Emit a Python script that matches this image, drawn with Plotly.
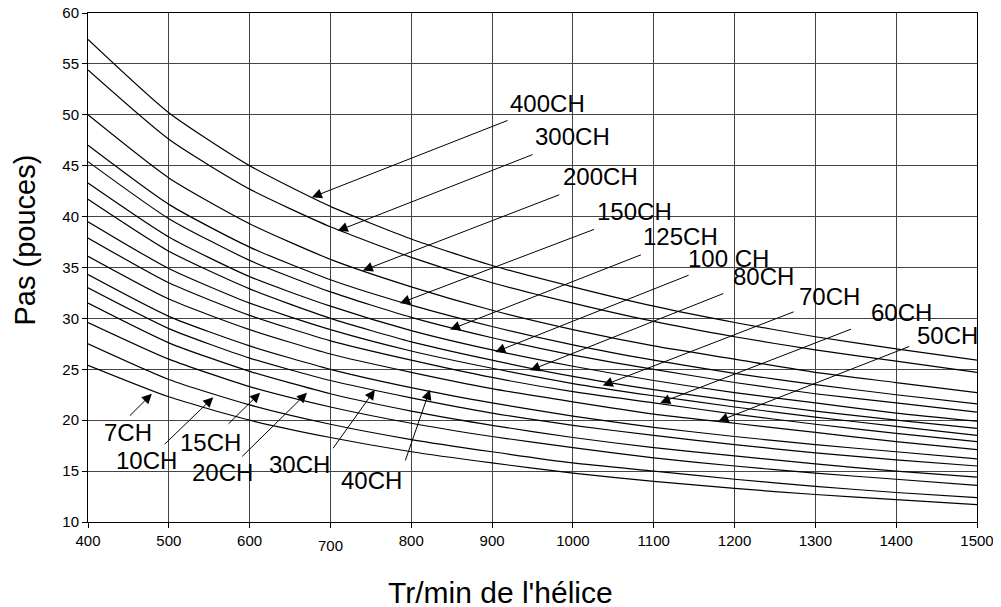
import plotly.graph_objects as go

# x values (Tr/min de l'hélice)
rpm = [400, 500, 600, 700, 800, 900, 1000, 1100, 1200, 1300, 1400, 1500]

# Pitch curves (pouces), one per power rating
ch_400 = [57.4, 50.2, 45.0, 41.0, 37.8, 35.2, 33.1, 31.2, 29.6, 28.2, 27.0, 25.9]
ch_300 = [54.4, 47.6, 42.7, 39.0, 36.0, 33.5, 31.5, 29.7, 28.2, 26.9, 25.8, 24.7]
ch_200 = [50.0, 43.8, 39.3, 35.8, 33.1, 30.8, 28.9, 27.3, 26.0, 24.7, 23.7, 22.7]
ch_150 = [47.0, 41.2, 37.0, 33.8, 31.3, 29.2, 27.4, 25.9, 24.6, 23.5, 22.5, 21.6]
ch_125 = [45.4, 39.8, 35.7, 32.6, 30.1, 28.1, 26.4, 25.0, 23.7, 22.6, 21.7, 20.8]
ch_100 = [43.3, 38.0, 34.1, 31.2, 28.8, 26.9, 25.3, 23.9, 22.7, 21.7, 20.7, 19.9]
ch_80 = [41.7, 36.6, 32.9, 30.0, 27.7, 25.9, 24.3, 23.0, 21.9, 20.9, 20.0, 19.2]
ch_70 = [39.5, 34.9, 31.5, 28.9, 26.8, 25.1, 23.6, 22.4, 21.3, 20.3, 19.4, 18.5]
ch_60 = [37.9, 33.5, 30.3, 27.8, 25.9, 24.2, 22.8, 21.7, 20.6, 19.6, 18.7, 17.9]
ch_50 = [36.1, 31.9, 28.9, 26.5, 24.7, 23.1, 21.8, 20.6, 19.7, 18.8, 17.9, 17.1]
ch_40 = [34.3, 30.2, 27.3, 25.0, 23.2, 21.7, 20.4, 19.3, 18.4, 17.6, 16.9, 16.2]
ch_30 = [33.0, 29.0, 26.1, 23.9, 22.2, 20.7, 19.5, 18.5, 17.6, 16.8, 16.1, 15.5]
ch_20 = [31.5, 27.6, 24.8, 22.6, 20.9, 19.5, 18.3, 17.3, 16.5, 15.7, 15.0, 14.4]
ch_15 = [29.6, 26.0, 23.3, 21.3, 19.7, 18.4, 17.3, 16.3, 15.5, 14.8, 14.2, 13.6]
ch_10 = [27.5, 24.0, 21.5, 19.6, 18.1, 16.9, 15.8, 15.0, 14.2, 13.5, 12.9, 12.4]
ch_7 = [25.4, 22.3, 20.0, 18.3, 16.9, 15.8, 14.8, 14.0, 13.3, 12.7, 12.2, 11.7]

series = [ch_400, ch_300, ch_200, ch_150, ch_125, ch_100, ch_80, ch_70,
          ch_60, ch_50, ch_40, ch_30, ch_20, ch_15, ch_10, ch_7]
names = ["400CH", "300CH", "200CH", "150CH", "125CH", "100 CH", "80CH", "70CH",
         "60CH", "50CH", "40CH", "30CH", "20CH", "15CH", "10CH", "7CH"]

# label text position, arrow tail, arrow tip (data coordinates)
label_text_pos = [(968, 51.1), (999, 47.9), (1034, 43.9), (1076, 40.55), (1133, 38.0),
                  (1193, 35.9), (1236, 34.1), (1318, 32.2), (1407, 30.6), (1463, 28.3),
                  (751, 14.1), (662, 15.6), (566, 14.9), (551, 17.8), (472, 16.0), (449, 18.8)]
arrow_tail = [(921, 49.5), (952, 46.15), (985, 42.2), (1028, 38.8), (1086, 36.3),
              (1145, 34.3), (1188, 32.5), (1275, 30.7), (1346, 29.0), (1418, 27.3),
              (792, 15.9), (702, 17.1), (589, 16.3), (572, 19.5), (493, 17.5), (450, 20.3)]
arrow_tip = [(677, 41.9), (709, 38.6), (740, 34.7), (786, 31.5), (848, 28.9),
             (904, 26.7), (947, 24.9), (1037, 23.4), (1108, 21.7), (1180, 19.9),
             (823, 23.0), (755, 23.0), (671, 22.7), (613, 22.7), (555, 22.25), (479, 22.6)]

x_ticks = [400, 500, 600, 700, 800, 900, 1000, 1100, 1200, 1300, 1400, 1500]
y_ticks = [10, 15, 20, 25, 30, 35, 40, 45, 50, 55, 60]

FONT = "Liberation Sans, Arial, Helvetica, sans-serif"

fig = go.Figure()
for name, ys in zip(names, series):
    fig.add_trace(go.Scatter(x=rpm, y=ys, mode="lines", name=name,
                             line=dict(color="black", width=1.2, shape="spline", smoothing=0.6),
                             showlegend=False, hoverinfo="skip"))

annotations = []
for name, tp, tl, tip in zip(names, label_text_pos, arrow_tail, arrow_tip):
    annotations.append(dict(x=tip[0], y=tip[1], ax=tl[0], ay=tl[1], xref="x", yref="y",
                            axref="x", ayref="y", text="", showarrow=True,
                            arrowhead=2, arrowsize=2, arrowwidth=1, arrowcolor="black"))
    annotations.append(dict(x=tp[0], y=tp[1], xref="x", yref="y", text=name, showarrow=False,
                            font=dict(family=FONT, size=24, color="black"),
                            xanchor="center", yanchor="middle"))

# lowered "700" tick label as in the original
annotations.append(dict(x=700, y=0, xref="x", yref="paper", text="700", showarrow=False,
                        yshift=-23, yanchor="middle", xanchor="center",
                        font=dict(family=FONT, size=15, color="black")))
# axis titles
annotations.append(dict(x=911, y=0, xref="x", yref="paper", text="Tr/min de l'hélice",
                        showarrow=False, yshift=-70, yanchor="middle",
                        font=dict(family=FONT, size=30, color="black")))
annotations.append(dict(x=0, y=37.65, xref="paper", yref="y", text="Pas (pouces)",
                        showarrow=False, xshift=-63, textangle=-90, xanchor="center",
                        yanchor="middle", font=dict(family=FONT, size=29, color="black")))

fig.update_layout(
    width=993, height=599,
    margin=dict(l=80, r=24, t=5, b=85, autoexpand=False),
    paper_bgcolor="white", plot_bgcolor="white",
    annotations=annotations,
    xaxis=dict(range=[400, 1500], tickvals=x_ticks, automargin=False,
               ticktext=[str(v) if v != 700 else " " for v in x_ticks],
               ticklabeloverflow="allow",
               showgrid=True, gridcolor="#444", gridwidth=1,
               showline=True, linecolor="black", linewidth=1, mirror=True,
               ticks="outside", ticklen=5, tickcolor="black",
               tickfont=dict(family=FONT, size=15, color="black"), zeroline=False),
    yaxis=dict(range=[10, 60], tickvals=y_ticks, automargin=False,
               ticklabeloverflow="allow",
               showgrid=True, gridcolor="#444", gridwidth=1,
               showline=True, linecolor="black", linewidth=1, mirror=True,
               ticks="outside", ticklen=5, tickcolor="black",
               tickfont=dict(family=FONT, size=15, color="black"), zeroline=False),
)

fig.write_html("out.html")
